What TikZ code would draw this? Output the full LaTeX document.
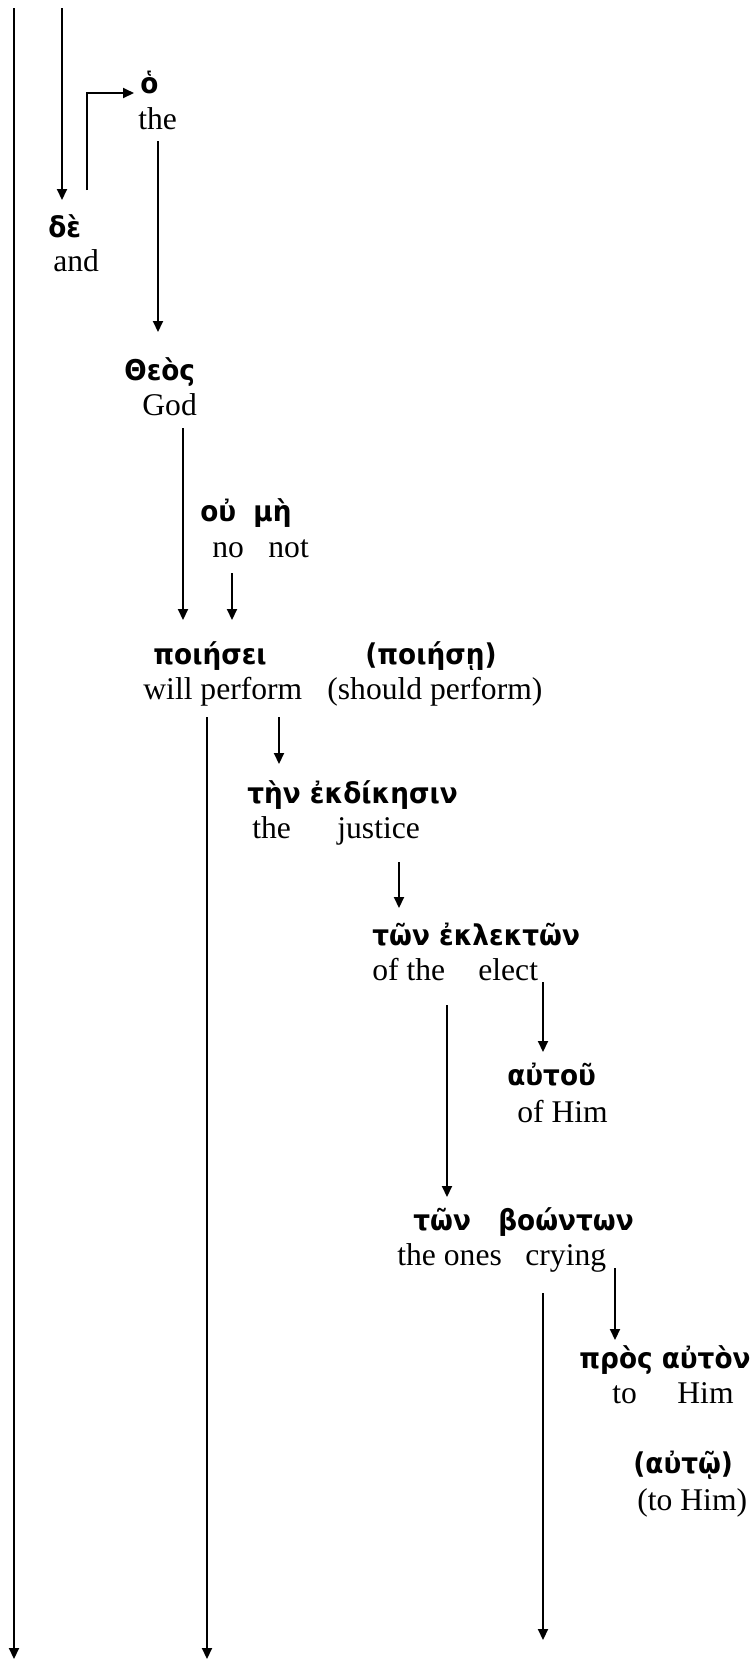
\documentclass[tikz,border=0pt]{standalone}
\usepackage{fontspec}
\setmainfont{Liberation Serif}
\newfontfamily\grk{DejaVu Sans}[FakeStretch=0.92]
\usetikzlibrary{arrows.meta,calc}
\tikzset{
  gk/.style={anchor=base west, inner sep=0pt, font=\grk\bfseries\fontsize{14.3}{16}\selectfont},
  en/.style={anchor=base west, inner sep=0pt, font=\fontsize{15.8}{19}\selectfont},
  ln/.style={line width=1pt},
  arr/.style={line width=1pt, -{Triangle[length=5.5pt,width=5pt]}}
}
\begin{document}
\begin{tikzpicture}[x=0.5pt,y=-0.5pt]
\useasboundingbox (0,0) rectangle (753,1661);
% words
\node[gk] (g1) at (140,93) {ὁ};
\node[en] (e1) at (138,129) {the};
\node[gk] (g2) at (48,237) {δὲ};
\node[en] (e2) at (53,271) {and};
\node[gk] (g3) at (124,380) {Θεὸς};
\node[en] (e3) at (142,415) {God};
\node[gk] (g4a) at (200,521) {οὐ};
\node[gk] (g4b) at (253,521) {μὴ};
\node[en] (e4a) at (212,557) {no};
\node[en] (e4b) at (268,557) {not};
\node[gk] (g5) at (153,664) {ποιήσει};
\node[en] (e5) at (143,699) {will perform};
\node[gk] (g6) at (365,664) {(ποιήσῃ)};
\node[en] (e6) at (327,699) {(should perform)};
\node[gk] (g7) at (247,803) {τὴν ἐκδίκησιν};
\node[en] (e7a) at (252,838) {the};
\node[en] (e7b) at (337,838) {justice};
\node[gk] (g8) at (372,945) {τῶν ἐκλεκτῶν};
\node[en] (e8a) at (372,980) {of the};
\node[en] (e8b) at (478,980) {elect};
\node[gk] (g9) at (507,1085) {αὐτοῦ};
\node[en] (e9) at (517,1122) {of Him};
\node[gk] (g10a) at (413,1230) {τῶν};
\node[gk] (g10b) at (498,1230) {βοώντων};
\node[en] (e10a) at (397,1265) {the ones};
\node[en] (e10b) at (525,1265) {crying};
\node[gk] (g11) at (579,1368) {πρὸς αὐτὸν};
\node[en] (e11a) at (612,1403) {to};
\node[en] (e11b) at (677,1403) {Him};
\node[gk] (g12) at (633,1473) {(αὐτῷ)};
\node[en] (e12) at (637,1510) {(to Him)};
% free ends
\coordinate (t0) at (14,8);
\coordinate (b0) at (14,1659);
\coordinate (t1) at (62,8);
\coordinate (b5) at (207,1659);
\coordinate (b10) at (543,1640);
% connectors
\draw[arr] (t0) -- (b0);
\draw[arr] (t1) -- ($(g2.base west)+(14,-37)$);
\draw[arr] ($(g2.base west)+(39,-47)$) |- ($(g1.base west)+(-6,0)$);
\draw[arr] ($(e1.base west)+(20,12)$) -- ($(g3.base west)+(34,-48)$);
\draw[arr] ($(e3.base west)+(41,13)$) -- ($(g5.base west)+(30,-44)$);
\draw[arr] ($(e4a.base west)+(20,16)$) -- ($(g5.base west)+(79,-44)$);
\draw[arr] ($(e5.base west)+(64,18)$) -- (b5);
\draw[arr] ($(e5.base west)+(136,18)$) -- ($(g7.base west)+(32,-39)$);
\draw[arr] ($(e7b.base west)+(62,24)$) -- ($(g8.base west)+(27,-37)$);
\draw[arr] ($(e8b.base west)+(65,2)$) -- ($(g9.base west)+(36,-33)$);
\draw[arr] ($(e8a.base west)+(75,25)$) -- ($(g10a.base west)+(34,-33)$);
\draw[arr] ($(e10b.base west)+(90,3)$) -- ($(g11.base west)+(36,-28)$);
\draw[arr] ($(e10b.base west)+(18,28)$) -- (b10);
\end{tikzpicture}
\end{document}
